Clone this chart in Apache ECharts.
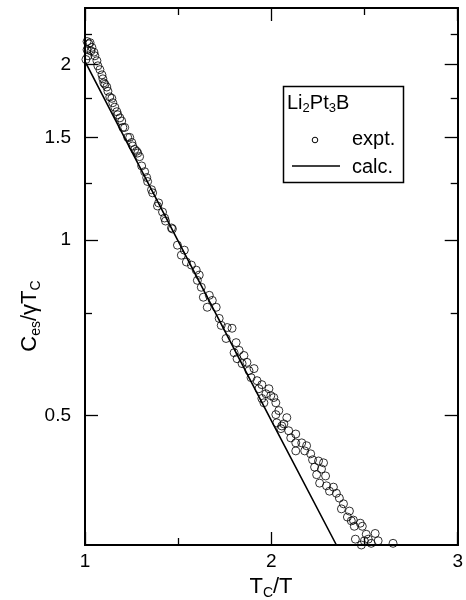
<!DOCTYPE html>
<html>
<head>
<meta charset="utf-8">
<script src="https://cdn.jsdelivr.net/npm/echarts@6/dist/echarts.min.js"></script>
<style>
html,body{margin:0;padding:0;background:#fff;}
#chart{width:466px;height:600px;}
</style>
</head>
<body>
<div id="chart"></div>
<script>
// ---- data ----
const exptX = [1.011,1.021,1.027,1.011,1.037,1.016,1.048,1.053,1.064,1.069,1.080,1.091,1.096,1.107,1.117,1.123,1.133,1.144,1.149,1.160,1.171,1.176,1.187,1.197,1.203,1.213,1.229,1.240,1.251,1.256,1.277,1.283,1.293,1.304,1.331,1.336,1.357,1.363,1.395,1.389,1.427,1.432,1.464,1.469,1.496,1.517,1.544,1.571,1.597,1.603,1.624,1.635,1.667,1.656,1.704,1.720,1.731,1.763,1.789,1.757,1.811,1.800,1.827,1.816,1.843,1.869,1.907,1.891,1.923,1.949,1.933,1.987,1.971,2.013,1.949,2.024,1.960,2.024,2.083,2.029,2.056,2.067,2.051,2.093,2.131,2.131,2.163,2.131,2.179,2.211,2.221,2.253,2.232,2.269,2.243,2.291,2.259,2.296,2.333,2.312,2.365,2.387,2.376,2.419,2.408,2.440,2.477,2.445,2.488,2.509,2.557,2.451,2.499,2.536,2.573,2.483,2.653,
  1.005,1.032,1.101,1.267,1.320,1.416,1.533,1.613,1.683,1.853,1.880,1.997,2.040,2.104,2.189,2.280,2.349,2.429,2.520];
const exptY = [2.19,2.17,2.18,2.12,2.14,2.07,2.10,2.07,2.03,1.99,1.96,1.92,1.89,1.85,1.83,1.80,1.76,1.75,1.72,1.69,1.66,1.64,1.62,1.60,1.56,1.56,1.50,1.50,1.47,1.45,1.42,1.41,1.39,1.34,1.28,1.26,1.22,1.205,1.158,1.144,1.091,1.078,1.049,1.045,0.980,0.942,0.917,0.906,0.888,0.853,0.830,0.798,0.804,0.767,0.767,0.734,0.714,0.708,0.706,0.678,0.667,0.641,0.647,0.626,0.614,0.617,0.602,0.581,0.574,0.565,0.556,0.556,0.545,0.537,0.535,0.526,0.526,0.502,0.496,0.486,0.480,0.484,0.475,0.471,0.465,0.449,0.449,0.435,0.435,0.430,0.420,0.418,0.408,0.405,0.396,0.394,0.383,0.379,0.377,0.371,0.361,0.353,0.346,0.343,0.335,0.331,0.327,0.323,0.323,0.313,0.314,0.307,0.305,0.302,0.305,0.300,0.302,
  2.04,2.11,1.86,1.43,1.31,1.117,0.961,0.871,0.788,0.634,0.597,0.541,0.510,0.458,0.444,0.415,0.368,0.330,0.307];
const calcX = [1.0, 1.5, 2.0, 2.349];
const calcY = [2.025, 0.996, 0.490, 0.300];
const xTickLabels = [1, 2, 3];
const yMajorTicks = [0.5, 1, 1.5, 2];
const yMinorTicks = [0.75, 1.25, 1.75, 2.25];

const FONT = '"Liberation Sans", Arial, Helvetica, sans-serif';
const exptData = exptX.map((x, i) => [x, exptY[i]]);
const calcData = calcX.map((x, i) => [x, calcY[i]]);

const chart = echarts.init(document.getElementById('chart'), null, {renderer: 'canvas'});

function xAx(pos, showLabels) {
  return {
    type: 'value', position: pos, min: 1, max: 3, interval: 1,
    axisLine: {show: true, onZero: false, lineStyle: {color: '#000', width: 2}},
    axisTick: {show: true, inside: true, length: 13, lineStyle: {color: '#000', width: 1.3}},
    minorTick: {show: true, splitNumber: 2, length: 7, lineStyle: {color: '#000', width: 1.3}},
    splitLine: {show: false}, minorSplitLine: {show: false},
    axisLabel: {show: showLabels, color: '#000', fontSize: 19, fontFamily: FONT, margin: 7,
      showMinLabel: true, showMaxLabel: true,
      formatter: v => (xTickLabels.indexOf(v) >= 0 ? String(v) : '')}
  };
}
function yAx(pos, ticks, len, showLabels) {
  return {
    type: 'log', logBase: 10, position: pos, min: 0.3, max: 2.5,
    axisLine: {show: true, onZero: false, lineStyle: {color: '#000', width: 2}},
    axisTick: {show: true, inside: true, length: len, customValues: ticks, lineStyle: {color: '#000', width: 1.3}},
    splitLine: {show: false}, minorTick: {show: false},
    axisLabel: {show: showLabels, customValues: ticks, color: '#000', fontSize: 19, fontFamily: FONT, margin: 14,
      formatter: v => String(v)}
  };
}

const option = {
  animation: false,
  backgroundColor: '#fff',
  grid: {left: 85, top: 8, width: 375, height: 537, containLabel: false},
  xAxis: [xAx('bottom', true), xAx('top', false)],
  yAxis: [
    yAx('left', yMajorTicks, 13, true),
    yAx('left', yMinorTicks, 7, false),
    yAx('right', yMajorTicks, 13, false),
    yAx('right', yMinorTicks, 7, false)
  ],
  series: [
    {
      name: 'calc.', type: 'line', data: calcData, xAxisIndex: 0, yAxisIndex: 0,
      showSymbol: false, symbol: 'none', clip: true,
      lineStyle: {color: '#000', width: 1.6}, z: 2
    },
    {
      name: 'expt.', type: 'scatter', data: exptData, xAxisIndex: 0, yAxisIndex: 0,
      symbol: 'circle', symbolSize: 8, clip: true,
      itemStyle: {color: 'rgba(0,0,0,0)', borderColor: '#000', borderWidth: 1}, z: 3
    }
  ],
  graphic: [
    // legend box
    {type: 'rect', shape: {x: 283.5, y: 86.5, width: 120, height: 96},
      style: {fill: '#fff', stroke: '#000', lineWidth: 1.5}, z: 10},
    {type: 'text', x: 287, y: 104, z: 11,
      style: {text: '{m|Li}{s|2}{m|Pt}{s|3}{m|B}', verticalAlign: 'middle', align: 'left',
        rich: {
          m: {fontSize: 20, fontFamily: FONT, fill: '#000', lineHeight: 22, verticalAlign: 'top'},
          s: {fontSize: 13, fontFamily: FONT, fill: '#000', lineHeight: 12, verticalAlign: 'bottom'}
        }}},
    {type: 'circle', shape: {cx: 315, cy: 140, r: 2.8}, style: {fill: 'none', stroke: '#000', lineWidth: 1}, z: 11},
    {type: 'text', x: 352, y: 139, z: 11,
      style: {text: 'expt.', fontSize: 20, fontFamily: FONT, fill: '#000', verticalAlign: 'middle', align: 'left'}},
    {type: 'line', shape: {x1: 292, y1: 166, x2: 340, y2: 166}, style: {stroke: '#000', lineWidth: 1.3}, z: 11},
    {type: 'text', x: 352, y: 167, z: 11,
      style: {text: 'calc.', fontSize: 20, fontFamily: FONT, fill: '#000', verticalAlign: 'middle', align: 'left'}},
    // axis titles
    {type: 'text', x: 271, y: 588, z: 11,
      style: {text: '{m|T}{s|C}{m|/T}', align: 'center', verticalAlign: 'middle',
        rich: {
          m: {fontSize: 22, fontFamily: FONT, fill: '#000', lineHeight: 24, verticalAlign: 'top'},
          s: {fontSize: 14, fontFamily: FONT, fill: '#000', lineHeight: 12, verticalAlign: 'bottom'}
        }}},
    {type: 'text', x: 31, y: 316, rotation: Math.PI / 2, z: 11,
      style: {text: '{m|C}{s|es}{m|/γT}{s|C}', align: 'center', verticalAlign: 'middle',
        rich: {
          m: {fontSize: 22, fontFamily: FONT, fill: '#000', lineHeight: 24, verticalAlign: 'top'},
          s: {fontSize: 14, fontFamily: FONT, fill: '#000', lineHeight: 12, verticalAlign: 'bottom'}
        }}}
  ]
};
chart.setOption(option);
</script>
</body>
</html>
